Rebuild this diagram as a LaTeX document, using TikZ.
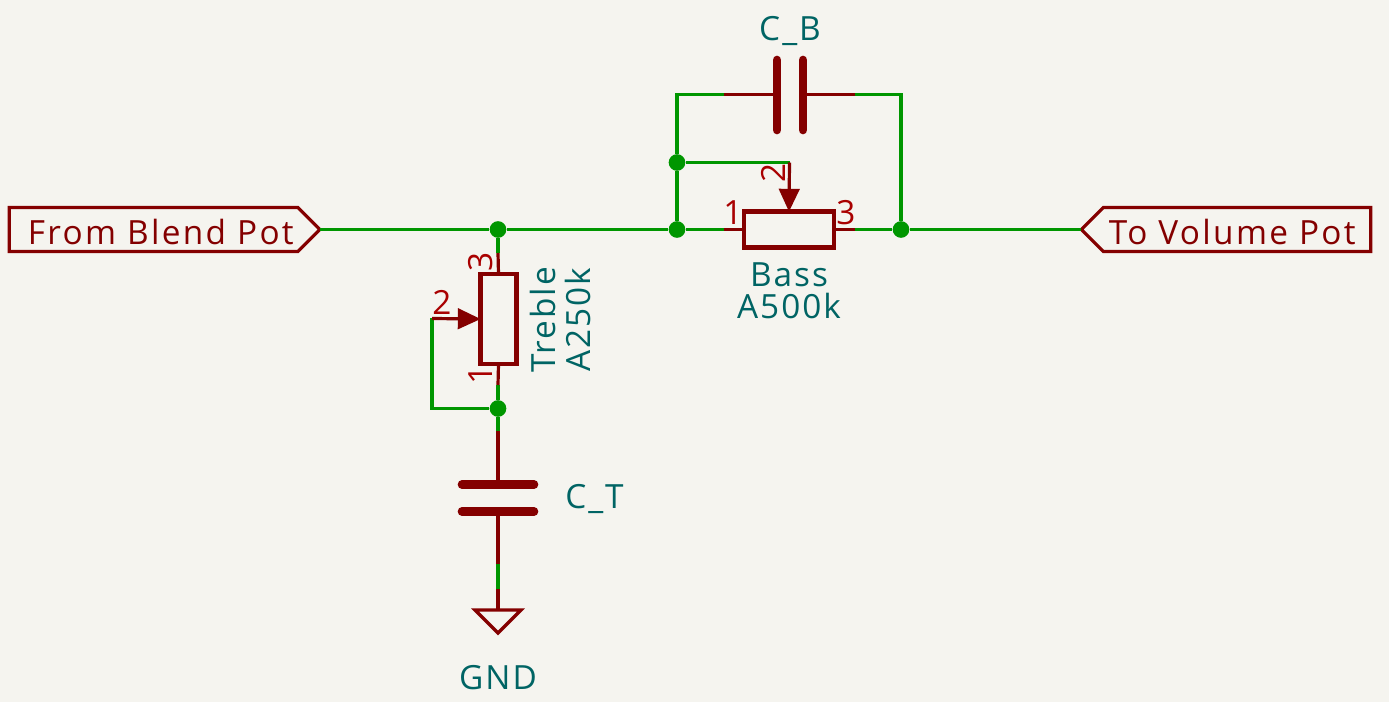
\documentclass[tikz,border=0pt]{standalone}
\usepackage{fontspec}
\setmainfont[LetterSpace=6]{Open Sans}
\newfontfamily\flagfont[LetterSpace=7]{Open Sans}
\usetikzlibrary{arrows.meta,shapes.symbols}
\definecolor{sheetbg}{HTML}{F5F4EF}
\definecolor{wiregreen}{HTML}{009600}
\definecolor{symred}{HTML}{840000}
\definecolor{pinred}{HTML}{A90000}
\definecolor{valteal}{HTML}{006464}
\begin{document}
\begin{tikzpicture}[
    x=0.75pt, y=-0.75pt,
    wire/.style={draw=wiregreen, line width=2.4pt},
    pinline/.style={draw=symred, line width=2.4pt},
    plate/.style={draw=symred, line width=6.5pt, line cap=round},
    junction/.style={circle, fill=wiregreen, inner sep=0pt, minimum size=12.5pt},
    potbox/.style={rectangle, draw=symred, line width=3.2pt, outer sep=0pt, inner sep=0pt},
    flag/.style={signal, draw=symred, line width=2.4pt, outer sep=0pt, inner sep=0pt,
        signal pointer angle=90, minimum height=33pt, text=symred, font=\flagfont\fontsize{25}{30}\selectfont},
    valtext/.style={text=valteal, inner sep=0pt, font=\fontsize{25}{30}\selectfont},
    pintext/.style={text=pinred, inner sep=0pt, font=\fontsize{25}{30}\selectfont},
    wiper/.style={pinline, -{Triangle[length=17pt,width=16pt,line width=0pt]}}
]
\fill[sheetbg] (0,0) rectangle (1389,702);
\useasboundingbox (0,0) rectangle (1389,702);

% flags
\node[flag, signal to=east, signal from=nowhere, minimum width=233pt] (FromFlag) at (153.5,229.5) {\kern11pt\rule{0pt}{22pt}From Blend Pot};
\node[flag, signal to=west, signal from=nowhere, minimum width=217pt] (ToFlag) at (1237,229.5) {\rule{0pt}{22pt}To Volume Pot\kern7pt};

% junctions
\node[junction] (JT) at (498,229.5) {};
\node[junction] (JL) at (677,229.5) {};
\node[junction] (JR) at (901,229.5) {};
\node[junction] (JW) at (677,162.5) {};
\node[junction] (JB) at (498,408.5) {};

% pots
\node[potbox, minimum width=67.5pt, minimum height=27pt] (Bass) at (789,229.5) {};
\node[potbox, minimum width=27pt, minimum height=67.5pt] (Treble) at (498.5,319) {};

% pin ends
\coordinate (BassA) at (724,229.5);
\coordinate (BassC) at (855,229.5);
\coordinate (BassW) at (789.5,162.5);
\coordinate (TrebleA) at (498,253);
\coordinate (TrebleC) at (498,385);
\coordinate (TrebleW) at (432,318.5);
\coordinate (CbA) at (724,94.5);
\coordinate (CbB) at (855,94.5);
\coordinate (CbL) at (677,94.5);
\coordinate (CbR) at (901,94.5);
\coordinate (CbPlateA) at (777,94.5);
\coordinate (CbPlateB) at (803,94.5);
\coordinate (CtA) at (498,431);
\coordinate (CtB) at (498,564);
\coordinate (CtPlateA) at (498,484.5);
\coordinate (CtPlateB) at (498,511.5);
\coordinate (GndA) at (498,589);
\coordinate (GndB) at (498,610);

% wires
\draw[wire] (FromFlag.east) -- (JT) -- (JL) -- (BassA);
\draw[wire] (BassC) -- (JR) -- (ToFlag.west);
\draw[wire] (JT) -- (TrebleA);
\draw[wire] (TrebleC) -- (JB) -- (CtA);
\draw[wire] (TrebleW) |- (JB);
\draw[wire] (JL) -- (JW) -- (CbL) -- (CbA);
\draw[wire] (JW) -- (BassW);
\draw[wire] (CbB) -- (CbR) -- (JR);
\draw[wire] (CtB) -- (GndA);

% bass pot pins
\draw[pinline] (BassA) -- (Bass.west);
\draw[pinline] (BassC) -- (Bass.east);
\draw[wiper] (BassW) -- (Bass.north);
\node[pintext] (BassP1) at (733,213) {1};
\node[pintext] (BassP3) at (846,213) {3};
\node[pintext, rotate=90] (BassP2) at (773,173) {2};
\node[valtext] (BassRef) at (789,275) {Bass};
\node[valtext] (BassVal) at (789,306) {A500k};

% treble pot pins
\draw[pinline] (TrebleA) -- (Treble.north);
\draw[pinline] (TrebleC) -- (Treble.south);
\draw[wiper] (TrebleW) -- (Treble.west);
\node[pintext, rotate=90] (TrebleP3) at (481,262) {3};
\node[pintext, rotate=90] (TrebleP1) at (481,375) {1};
\node[pintext] (TrebleP2) at (442,302) {2};
\node[valtext, rotate=90] (TrebleRef) at (543,320) {Treble};
\node[valtext, rotate=90] (TrebleVal) at (578,320) {A250k};

% bass cap
\draw[pinline] (CbA) -- (CbPlateA);
\draw[pinline] (CbPlateB) -- (CbB);
\draw[plate] (777,60) -- (777,130);
\draw[plate] (803,60) -- (803,130);
\node[valtext] (CbRef) at (790,31) {C\_B};

% treble cap
\draw[pinline] (CtA) -- (CtPlateA);
\draw[pinline] (CtPlateB) -- (CtB);
\draw[plate] (462,484.5) -- (534,484.5);
\draw[plate] (462,511.5) -- (534,511.5);
\node[valtext, anchor=west] (CtRef) at (565,499) {C\_T};

% gnd
\draw[pinline] (GndA) -- (GndB);
\draw[pinline, line join=miter] (GndB) -- (475,610) -- (498,633) -- (521,610) -- cycle;
\node[valtext] (GndRef) at (498,678) {GND};
\end{tikzpicture}
\end{document}
